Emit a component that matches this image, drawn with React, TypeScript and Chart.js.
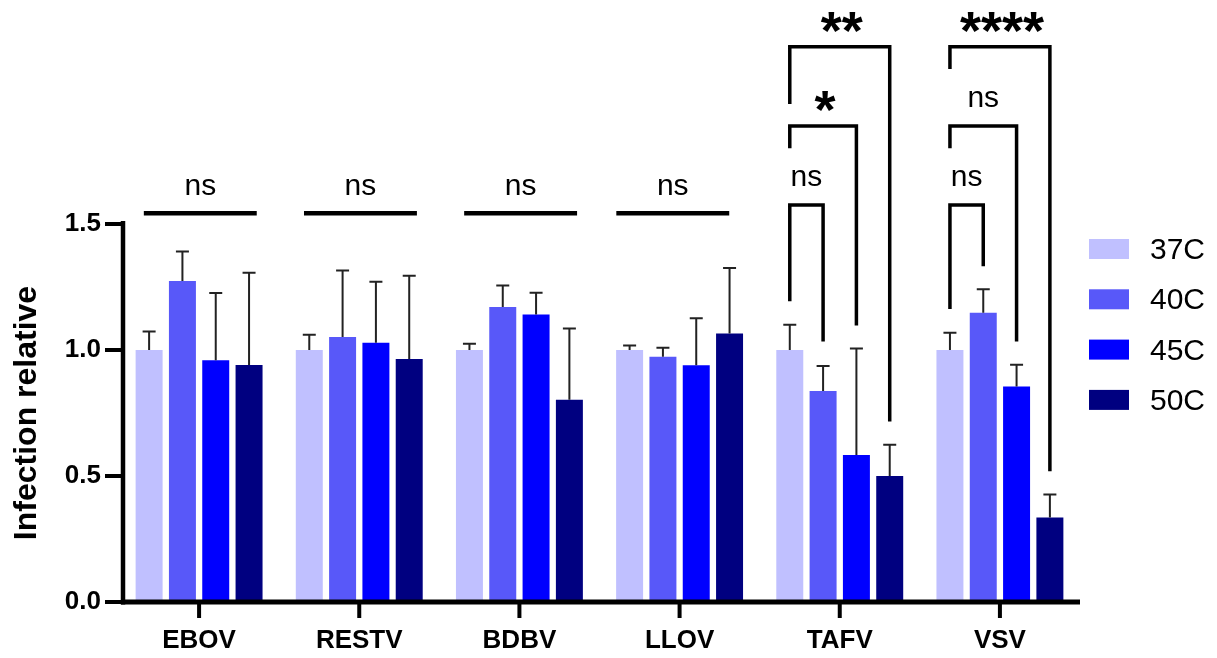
import React, { useEffect, useRef } from 'react';
import { Chart, registerables } from 'chart.js';

Chart.register(...registerables);

// ---------- data ----------
const categories = ['EBOV', 'RESTV', 'BDBV', 'LLOV', 'TAFV', 'VSV'];
const seriesLabels = ['37C', '40C', '45C', '50C'];
const seriesColors = ['#C0C0FF', '#5858F9', '#0000FF', '#000080'];

const mean37 = [1.0, 1.0, 1.0, 1.0, 1.0, 1.0];
const mean40 = [1.274, 1.052, 1.171, 0.973, 0.837, 1.148];
const mean45 = [0.959, 1.029, 1.141, 0.939, 0.583, 0.855];
const mean50 = [0.94, 0.964, 0.803, 1.065, 0.5, 0.335];

const sd37 = [0.073, 0.061, 0.025, 0.018, 0.1, 0.068];
const sd40 = [0.117, 0.263, 0.085, 0.036, 0.1, 0.093];
const sd45 = [0.267, 0.242, 0.086, 0.187, 0.423, 0.086];
const sd50 = [0.367, 0.331, 0.282, 0.26, 0.124, 0.092];

const yTicks = [0, 0.5, 1.0, 1.5];

// single "ns" lines over whole groups
const lineGroups = ['EBOV', 'RESTV', 'BDBV', 'LLOV'];
const lineLabels = ['ns', 'ns', 'ns', 'ns'];
const lineLevel = [1.543, 1.543, 1.543, 1.543];
// line extent in category widths relative to the category centre
const lineStart = [-0.345, -0.345, -0.345, -0.395];
const lineEnd = [0.36, 0.36, 0.36, 0.31];

// brackets (37C vs other series)
const bracketGroups = ['TAFV', 'TAFV', 'TAFV', 'VSV', 'VSV', 'VSV'];
const bracketTo = [1, 2, 3, 1, 2, 3];
const bracketLabels = ['ns', '*', '**', 'ns', 'ns', '****'];
const bracketTop = [1.575, 1.889, 2.203, 1.575, 1.889, 2.203];
const bracketLeftEnd = [1.193, 1.801, 1.976, 1.163, 1.801, 2.115];
const bracketRightEnd = [1.034, 1.097, 0.716, 1.332, 1.034, 0.519];

const means = [mean37, mean40, mean45, mean50];
const sds = [sd37, sd40, sd45, sd50];

const FONT = "'Liberation Sans', Arial, Helvetica, sans-serif";

function drawCenteredText(ctx: CanvasRenderingContext2D, text: string, cx: number, cy: number, font: string) {
  ctx.font = font;
  ctx.textAlign = 'center';
  ctx.textBaseline = 'alphabetic';
  const m = ctx.measureText(text);
  const base = cy + (m.actualBoundingBoxAscent - m.actualBoundingBoxDescent) / 2;
  ctx.fillText(text, cx, base);
}

const decor = {
  id: 'decor',
  afterDraw(chart: any) {
    const { ctx, chartArea, scales } = chart;
    const x = scales.x;
    const y = scales.y;
    ctx.save();
    ctx.strokeStyle = '#000';
    ctx.fillStyle = '#000';
    ctx.lineCap = 'butt';

    // error bars
    ctx.strokeStyle = '#222';
    ctx.lineWidth = 2;
    means.forEach((arr, k) => {
      const meta = chart.getDatasetMeta(k);
      arr.forEach((v, i) => {
        const el = meta.data[i];
        const top = y.getPixelForValue(v + sds[k][i]);
        ctx.beginPath();
        ctx.moveTo(el.x, el.y);
        ctx.lineTo(el.x, top);
        ctx.moveTo(el.x - 6.5, top);
        ctx.lineTo(el.x + 6.5, top);
        ctx.stroke();
      });
    });

    // axes
    ctx.strokeStyle = '#000';
    const axisX = chartArea.left + 4;
    const y0 = y.getPixelForValue(0);
    ctx.lineWidth = 4.5;
    ctx.beginPath();
    ctx.moveTo(axisX, y.getPixelForValue(1.5) - 3);
    ctx.lineTo(axisX, y0 + 2.5);
    ctx.stroke();
    ctx.lineWidth = 4;
    yTicks.forEach((v) => {
      const py = y.getPixelForValue(v);
      ctx.beginPath();
      ctx.moveTo(axisX - 18, py);
      ctx.lineTo(axisX, py);
      ctx.stroke();
    });
    ctx.lineWidth = 5;
    ctx.beginPath();
    ctx.moveTo(axisX - 2, y0);
    ctx.lineTo(chartArea.right, y0);
    ctx.stroke();
    ctx.lineWidth = 4;
    categories.forEach((_, i) => {
      const px = x.getPixelForValue(i);
      ctx.beginPath();
      ctx.moveTo(px, y0);
      ctx.lineTo(px, y0 + 16);
      ctx.stroke();
    });

    // group ns lines
    const catW = (x.right - x.left) / categories.length;
    ctx.lineWidth = 4.5;
    lineGroups.forEach((g, j) => {
      const i = categories.indexOf(g);
      const c = x.getPixelForValue(i);
      const x1 = c + lineStart[j] * catW;
      const x2 = c + lineEnd[j] * catW;
      const py = y.getPixelForValue(lineLevel[j]);
      ctx.beginPath();
      ctx.moveTo(x1, py);
      ctx.lineTo(x2, py);
      ctx.stroke();
      drawCenteredText(ctx, lineLabels[j], (x1 + x2) / 2, py - 26.5, `30px ${FONT}`);
    });

    // brackets
    ctx.lineWidth = 3.5;
    ctx.lineJoin = 'miter';
    bracketGroups.forEach((g, j) => {
      const i = categories.indexOf(g);
      const xl = chart.getDatasetMeta(0).data[i].x;
      const xr = chart.getDatasetMeta(bracketTo[j]).data[i].x;
      const pt = y.getPixelForValue(bracketTop[j]);
      ctx.beginPath();
      ctx.moveTo(xl, y.getPixelForValue(bracketLeftEnd[j]));
      ctx.lineTo(xl, pt);
      ctx.lineTo(xr, pt);
      ctx.lineTo(xr, y.getPixelForValue(bracketRightEnd[j]));
      ctx.stroke();
      const lab = bracketLabels[j];
      if (lab === 'ns') {
        drawCenteredText(ctx, lab, (xl + xr) / 2, pt - 27, `30px ${FONT}`);
      } else {
        drawCenteredText(ctx, lab, (xl + xr) / 2 + 2, pt - 24.5, `bold 54px ${FONT}`);
      }
    });

    // legend
    const lx = chartArea.right + 9;
    seriesLabels.forEach((l, k) => {
      const cy = 249 + 50.3 * k;
      ctx.fillStyle = seriesColors[k];
      ctx.fillRect(lx, cy - 10, 40, 20);
      ctx.fillStyle = '#000';
      ctx.font = `30px ${FONT}`;
      ctx.textAlign = 'left';
      ctx.textBaseline = 'alphabetic';
      const m = ctx.measureText(l);
      ctx.fillText(l, lx + 61, cy + (m.actualBoundingBoxAscent - m.actualBoundingBoxDescent) / 2);
    });

    ctx.restore();
  },
};

export default function App() {
  const ref = useRef<HTMLCanvasElement>(null);
  useEffect(() => {
    document.body.style.margin = '0';
    const canvas = ref.current!;
    const chart = new Chart(canvas, {
      type: 'bar',
      data: {
        labels: categories,
        datasets: seriesLabels.map((l, k) => ({
          label: l,
          data: means[k],
          backgroundColor: seriesColors[k],
          borderWidth: 0,
          categoryPercentage: 0.832,
          barPercentage: 0.81,
        })),
      },
      options: {
        responsive: false,
        animation: false,
        devicePixelRatio: 1,
        layout: { padding: { top: 224, right: 137, bottom: 0, left: 0 } },
        plugins: { legend: { display: false }, tooltip: { enabled: false } },
        scales: {
          x: {
            grid: { display: false, drawTicks: false },
            border: { display: false },
            ticks: {
              color: '#000',
              font: { family: FONT, size: 26, weight: 'bold' },
              padding: 23,
              maxRotation: 0,
              autoSkip: false,
            },
            afterFit: (s: any) => {
              s.height = 56;
            },
          },
          y: {
            min: 0,
            max: 1.5,
            afterBuildTicks: (s: any) => {
              s.ticks = yTicks.map((v) => ({ value: v }));
            },
            grid: { display: false, drawTicks: false },
            border: { display: false },
            ticks: {
              color: '#000',
              font: { family: FONT, size: 26, weight: 'bold' },
              padding: 18,
              callback: (v: any) => Number(v).toFixed(1),
            },
            title: {
              display: true,
              text: 'Infection relative',
              color: '#000',
              font: { family: FONT, size: 32, weight: 'bold' },
              padding: { top: 8, bottom: 0 },
            },
            afterFit: (s: any) => {
              s.width = 119;
            },
          },
        },
      } as any,
      plugins: [decor],
    });
    return () => chart.destroy();
  }, []);
  return (
    <div style={{ width: 1217, height: 658 }}>
      <canvas ref={ref} width={1217} height={658} style={{ display: 'block' }} />
    </div>
  );
}
